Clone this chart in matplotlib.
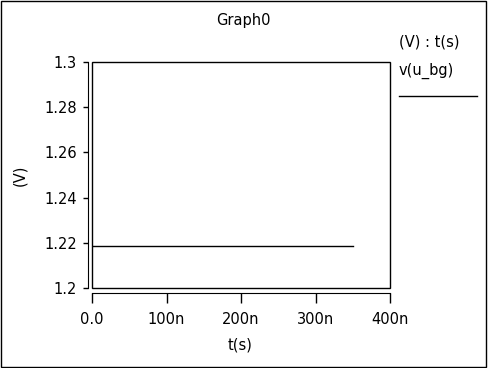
import matplotlib.pyplot as plt
from matplotlib.patches import Rectangle

plt.rcParams['font.family'] = ['DejaVu Sans']

# data
t_ns = [0, 350]
v_bg = [1.2186, 1.2186]
x_ticks = [0, 100, 200, 300, 400]
x_labels = ["0.0", "100n", "200n", "300n", "400n"]
y_ticks = [1.2, 1.22, 1.24, 1.26, 1.28, 1.3]
y_labels = ["1.2", "1.22", "1.24", "1.26", "1.28", "1.3"]

W, H = 488, 368
FS = 10.5
fig = plt.figure(figsize=(W / 100, H / 100), dpi=100)
ax = fig.add_axes([92 / W, 80 / H, 298 / W, 226 / H])

ax.plot(t_ns, v_bg, color="black", lw=1)
ax.set_xlim(0, 400)
ax.set_ylim(1.2, 1.3)
ax.set_xticks(x_ticks)
ax.set_xticklabels(x_labels)
ax.set_yticks(y_ticks)
ax.set_yticklabels(y_labels)

# plot box
ax.add_patch(Rectangle((0, 0), 1, 1, transform=ax.transAxes, fill=False,
                       ec="black", lw=1, clip_on=False))
ax.spines['top'].set_visible(False)
ax.spines['right'].set_visible(False)
ax.spines['left'].set_position(('outward', 3))
ax.spines['bottom'].set_position(('outward', 3.6))
ax.tick_params(axis='y', direction='out', length=3.6, width=1, labelsize=FS, pad=4.3)
ax.tick_params(axis='x', direction='out', length=7.2, width=1, labelsize=FS, pad=6.5)

fig.text(240 / W, 1 - 345 / H, "t(s)", ha="center", va="center", fontsize=FS)
fig.text(20 / W, 1 - 175 / H, "(V)", ha="center", va="center", rotation=90, fontsize=FS)
fig.text(243 / W, 1 - 21 / H, "Graph0", ha="center", va="center", fontsize=FS)

# legend area
fig.text(399 / W, 1 - 42 / H, "(V) : t(s)", ha="left", va="center", fontsize=FS)
fig.text(399 / W, 1 - 71 / H, "v(u_bg)", ha="left", va="center", fontsize=FS)
fig.add_artist(plt.Line2D([399 / W, 477 / W], [1 - 96 / H, 1 - 96 / H], color="black", lw=1))

# figure border
fig.add_artist(Rectangle((0.5 / W, 1.5 / H), 485 / W, 366 / H, transform=fig.transFigure,
                         fill=False, ec="black", lw=1))

fig.savefig("out.png", dpi=100)
